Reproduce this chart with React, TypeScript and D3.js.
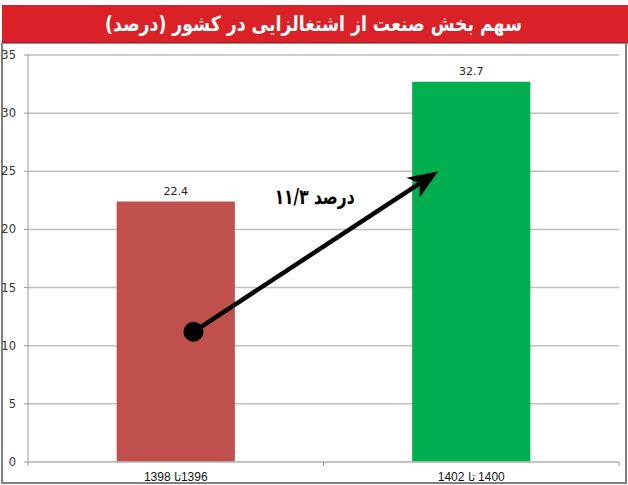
import React from "react";
import * as d3 from "d3";

const categories = ["1398 تا\u200E1396", "1402 تا\u200E 1400"];
const values = [22.4, 32.7];
const valueLabels = ["22.4", "32.7"];
const barColors = ["#c0504d", "#00b050"];
const yTicks = [0, 5, 10, 15, 20, 25, 30, 35];
const title = "سهم بخش صنعت از اشتغالزایی در کشور (درصد)";
const annotationText = "۱۱/۳ درصد";
// arrow: from (category 0, fraction of band, value) to (category 1, fraction of band, value)
const arrowFrom = { cat: 0, frac: 0.65, value: 11.2 };
const arrowTo = { cat: 1, frac: 0.22, value: 25.0 };
const annotationValue = 22.2;

const W = 628;
const H = 485;

export default function App() {
  const plotLeft = 28;
  const plotRight = 619;
  const y = d3.scaleLinear().domain([0, 35]).range([462, 55]);
  const x = d3
    .scaleBand<string>()
    .domain(categories)
    .range([plotLeft, plotRight])
    .paddingInner(0.6)
    .paddingOuter(0.3);
  const bw = x.bandwidth();
  const step = x.step();

  const x1 = (x(categories[arrowFrom.cat]) as number) + bw * arrowFrom.frac;
  const y1 = y(arrowFrom.value);
  const x2 = (x(categories[arrowTo.cat]) as number) + bw * arrowTo.frac;
  const y2 = y(arrowTo.value);
  const ang = Math.atan2(y2 - y1, x2 - x1);
  const headLen = 30;
  const headW = 12;
  const notch = 8;
  const ux = Math.cos(ang);
  const uy = Math.sin(ang);
  const px = -uy;
  const py = ux;
  const bx = x2 - ux * headLen;
  const by = y2 - uy * headLen;
  const nx = x2 - ux * (headLen - notch);
  const ny = y2 - uy * (headLen - notch);
  const headPath = `M${x2},${y2} L${bx + px * headW},${by + py * headW} L${nx},${ny} L${bx - px * headW},${by - py * headW} Z`;

  const annX = plotLeft + step * 0.97;
  const font = "'DejaVu Sans', Verdana, sans-serif";

  return (
    <svg
      width={W}
      height={H}
      style={{ position: "absolute", left: 0, top: 0, background: "#fff" }}
    >
      {/* title bar */}
      <rect x={2} y={5} width={626} height={38} fill="#da2128" />
      <line x1={2} x2={628} y1={43} y2={43} stroke="#6b1a1a" strokeWidth={1} />
      <text
        x={313.5}
        y={31}
        textAnchor="middle"
        fill="#fff"
        fontWeight="bold"
        fontSize={21}
        fontFamily={font}
        direction="rtl"
        textLength={417}
        lengthAdjust="spacingAndGlyphs"
      >
        {title}
      </text>

      {/* outer frame */}
      <line x1={2} x2={2} y1={43} y2={484} stroke="#7f7f7f" strokeWidth={2} />
      <line x1={626} x2={626} y1={43} y2={484} stroke="#7f7f7f" strokeWidth={2} />
      <line x1={1} x2={627} y1={483} y2={483} stroke="#7f7f7f" strokeWidth={2} />

      {/* gridlines and y ticks */}
      {yTicks.map((t) => (
        <g key={t}>
          <line
            x1={plotLeft}
            x2={plotRight}
            y1={y(t)}
            y2={y(t)}
            stroke="#bfbfbf"
            strokeWidth={1.5}
          />
          <line x1={24} x2={plotLeft} y1={y(t)} y2={y(t)} stroke="#999" strokeWidth={1} />
          <text
            x={16}
            y={y(t) + 4}
            textAnchor="end"
            fontSize={11.5}
            fill="#333"
            fontFamily={font}
          >
            {t}
          </text>
        </g>
      ))}
      <line x1={plotLeft} x2={plotLeft} y1={y(35)} y2={y(0) + 1} stroke="#999" strokeWidth={1} />

      {/* bars */}
      {categories.map((c, i) => (
        <g key={c}>
          <rect
            x={x(c)}
            y={y(values[i])}
            width={bw}
            height={y(0) - y(values[i])}
            fill={barColors[i]}
          />
          <text
            x={(x(c) as number) + bw / 2}
            y={y(values[i]) - 7}
            textAnchor="middle"
            fontSize={11}
            fill="#222"
            fontFamily={font}
          >
            {valueLabels[i]}
          </text>
          <text
            x={(x(c) as number) + bw / 2}
            y={481}
            textAnchor="middle"
            fontSize={12}
            fill="#111"
            fontFamily="'Liberation Sans', Arial, sans-serif"
            direction="ltr"
          >
            {c}
          </text>
        </g>
      ))}

      {/* x axis */}
      <line x1={plotLeft} x2={plotRight} y1={y(0)} y2={y(0)} stroke="#bfbfbf" strokeWidth={1.5} />
      {[0, 1, 2].map((k) => (
        <line
          key={k}
          x1={plotLeft + k * step}
          x2={plotLeft + k * step}
          y1={y(0)}
          y2={y(0) + 4}
          stroke="#999"
          strokeWidth={1}
        />
      ))}

      {/* annotation arrow */}
      <line x1={x1} y1={y1} x2={nx} y2={ny} stroke="#000" strokeWidth={4.5} />
      <path d={headPath} fill="#000" />
      <circle cx={x1} cy={y1} r={10} fill="#000" />
      <text
        x={annX}
        y={y(annotationValue)}
        textAnchor="middle"
        fontSize={21}
        fontWeight="bold"
        fill="#000"
        fontFamily={font}
        textLength={80}
        lengthAdjust="spacingAndGlyphs"
      >
        {annotationText}
      </text>
    </svg>
  );
}
